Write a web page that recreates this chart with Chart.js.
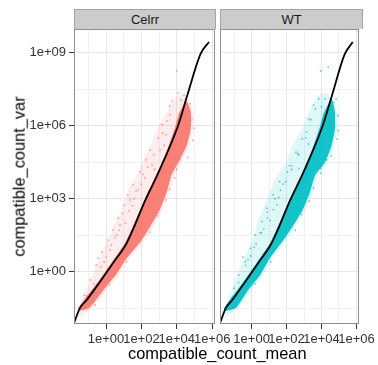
<!DOCTYPE html>
<html>
<head>
<meta charset="utf-8">
<script src="https://cdn.jsdelivr.net/npm/chart.js@4.4.1/dist/chart.umd.min.js"></script>
<style>
  body { margin: 0; background: #fff; font-family: "Liberation Sans", Arial, sans-serif; }
  #wrap { position: relative; width: 378px; height: 365px; overflow: hidden; }
  #wrap canvas { position: absolute; left: 0; top: 0; }
  .strip { position: absolute; top: 9px; height: 20px; box-sizing: border-box;
           background: #cccccc; border: 1px solid #a3a3a3; border-bottom: none;
           display: flex; align-items: center; justify-content: center;
           font-size: 13px; color: #1a1a1a; }
  .title { position: absolute; font-size: 16.4px; line-height: 19px; color: #000; white-space: nowrap; }
</style>
</head>
<body>
<div id="wrap">
  <canvas id="celrr" width="378" height="365"></canvas>
  <canvas id="wt" width="378" height="365"></canvas>
  <div class="strip" style="left:74px;width:142px;">Celrr</div>
  <div class="strip" style="left:220px;width:143px;">WT</div>
  <div class="title" id="ytitle">compatible_count_var</div>
  <div class="title" id="xtitle">compatible_count_mean</div>
</div>
<script>
// all values below are log10 of compatible_count_mean (x) and compatible_count_var (y)

// axis ticks
const xMajorExp = [0, 2, 4, 6];
const xMajorText = ['1e+00', '1e+02', '1e+04', '1e+06'];
const xMinorExp = [-1, 1, 3, 5];
const yMajorExp = [0, 3, 6, 9];
const yMajorText = ['1e+00', '1e+03', '1e+06', '1e+09'];
const yMinorExp = [-1.5, 1.5, 4.5, 7.5];

// Celrr: fitted trend
const celrrLineMean = [-1.81, -1.47, -1.09, -0.34, 0.40, 1.17, 2.26, 2.90, 4.07, 4.59, 5.35, 5.82];
const celrrLineVar  = [-2.11, -1.49, -1.16, -0.41, 0.36, 1.18, 3.00, 3.98, 6.00, 7.24, 8.96, 9.44];
// Celrr: dense part of the gene cloud (outline)
const celrrCoreMean = [-1.55, -0.96, -0.21, 0.55, 1.17, 1.95, 2.55, 3.08, 3.44, 3.71, 4.10, 4.56, 4.79, 4.79, 4.55,
                       4.12, 3.93, 3.45, 2.85, 2.20, 1.60, 1.08, 0.30, -0.45, -1.25, -1.58];
const celrrCoreVar  = [-1.62, -1.49, -0.82, -0.14, 0.55, 1.23, 1.92, 2.61, 3.29, 3.98, 4.51, 5.19, 5.87, 6.56, 7.00,
                       6.50, 6.00, 5.00, 3.98, 3.00, 2.00, 1.18, 0.36, -0.41, -1.16, -1.50];
// Celrr: sparse outer part of the cloud (outline)
const celrrHaloMean = [-1.70, -1.15, -0.77, -0.40, 0.07, 0.45, 0.92, 1.20, 1.68, 2.05, 2.53, 2.90, 3.50, 3.95, 4.45,
                       4.90, 4.93, 4.72, 4.25, 3.88, 3.60, 3.24, 2.72, 2.12, 1.35, 0.72, -0.05, -0.80, -1.45];
const celrrHaloVar  = [-1.85, -0.82, -0.14, 0.55, 1.23, 1.92, 2.61, 3.29, 3.90, 4.51, 5.19, 5.87, 6.65, 7.15, 7.30,
                       6.60, 5.87, 5.19, 4.51, 3.98, 3.29, 2.61, 1.92, 1.23, 0.55, -0.14, -0.82, -1.49, -1.85];
// Celrr: scattered genes
const celrrSpotMean = [4.00, 3.73, 4.07, 4.41, 4.69, 4.86, 3.62, 3.16, 2.94, 2.49, 2.26, 1.92, 1.53, 1.24, 1.02, 0.68,
                       0.40, 0.11, -0.23, -0.56, -0.90, -1.24, 1.36, 1.81, 2.20, 2.60, 3.05, 3.39, 0.79, 0.51, 0.23,
                       -0.11, 4.97, 4.18, 3.90, 3.39, 2.49, 1.15, 0.20, -0.62,
                       0.60, 0.95, 1.30, 1.60, 1.10, 0.30, -0.30, -0.70, -1.10, 2.00, 2.35, 2.70, 3.20, 3.45, 3.30,
                       2.10, 1.70, -0.45, 0.00, 0.75, 1.50, 2.75, 3.60, 4.25, 4.75, 4.90, 4.60, 4.00, 3.60, 2.90];
const celrrSpotVar  = [8.25, 7.02, 7.35, 7.27, 6.65, 6.24, 6.45, 6.04, 5.50, 5.00, 4.60, 4.10, 3.57, 3.16, 2.74, 2.21,
                       1.72, 1.30, 0.81, 0.28, -0.34, -0.96, 2.95, 3.36, 3.85, 4.39, 5.00, 5.63, 1.92, 1.39, 0.89,
                       0.40, 5.90, 4.60, 3.86, 2.95, 1.63, 0.40, -0.55, -1.37,
                       1.50, 2.40, 2.50, 3.00, 2.00, 1.10, 0.20, -0.50, -1.00, 3.60, 4.30, 4.80, 5.70, 6.20, 5.20,
                       4.00, 3.30, 0.55, 0.60, 1.70, 2.70, 4.20, 6.80, 7.05, 6.90, 5.40, 4.70, 4.20, 3.40, 2.30];

// WT: fitted trend
const wtLineMean = [-1.81, -1.47, -1.10, -0.36, 0.38, 1.15, 2.25, 2.90, 4.07, 4.60, 5.33, 5.79];
const wtLineVar  = [-2.11, -1.49, -1.16, -0.41, 0.36, 1.18, 3.00, 3.98, 6.00, 7.24, 8.94, 9.44];
// WT: dense part of the cloud (outline)
const wtCoreMean = [-1.55, -0.91, -0.26, 0.49, 1.04, 1.75, 2.40, 2.97, 3.35, 3.65, 4.20, 4.58, 4.77, 4.77, 4.58,
                    4.12, 3.93, 3.45, 2.85, 2.19, 1.59, 1.06, 0.28, -0.47, -1.26, -1.58];
const wtCoreVar  = [-1.62, -1.49, -0.82, -0.14, 0.55, 1.23, 1.92, 2.61, 3.29, 3.98, 4.50, 5.19, 5.87, 6.56, 7.10,
                    6.50, 6.00, 5.00, 3.98, 3.00, 2.00, 1.18, 0.36, -0.41, -1.16, -1.50];
// WT: sparse outer part of the cloud (outline)
const wtHaloMean = [-1.70, -1.19, -0.82, -0.45, 0.02, 0.30, 0.67, 1.04, 1.45, 1.98, 2.35, 2.90, 3.28, 3.84, 4.30,
                    4.90, 4.92, 4.73, 4.35, 3.80, 3.50, 3.12, 2.55, 1.90, 1.19, 0.64, -0.11, -0.76, -1.45];
const wtHaloVar  = [-1.85, -0.82, -0.14, 0.55, 1.23, 1.92, 2.61, 3.29, 3.95, 4.50, 5.19, 5.87, 6.56, 7.24, 7.35,
                    6.56, 5.87, 5.19, 4.50, 3.98, 3.29, 2.61, 1.92, 1.23, 0.55, -0.14, -0.82, -1.49, -1.85];
// WT: scattered genes
const wtSpotMean = [4.39, 3.95, 3.28, 3.65, 3.84, 4.00, 4.84, 4.95, 2.89, 2.54, 2.16, 1.60, 1.23, 0.86, 0.58, 0.21,
                    -0.07, -0.35, -0.73, -1.00, -1.00, 1.35, 1.80, 2.30, 2.70, 3.10, 0.90, 0.50, 0.15, -0.20, 3.95,
                    4.95, 4.30, 3.30, 2.50, 1.10, 0.20,
                    0.55, 0.90, 1.25, 1.55, 1.05, 0.25, -0.35, -0.75, -1.10, 1.95, 2.30, 2.65, 3.15, 3.40, 3.25,
                    2.05, 1.65, -0.50, -0.05, 0.70, 1.45, 2.70, 3.55, 4.20, 4.70, 4.88, 4.55, 3.95, 3.55, 2.85];
const wtSpotVar  = [8.41, 8.25, 6.28, 6.70, 7.10, 6.78, 7.10, 6.42, 5.46, 4.91, 4.36, 3.70, 3.16, 2.61, 2.06, 1.51,
                    0.96, 0.41, -0.14, -0.68, -1.37, 3.00, 3.60, 4.20, 4.80, 5.50, 2.20, 1.60, 1.00, 0.50, 4.05,
                    5.80, 4.60, 2.90, 1.70, 0.40, -0.50,
                    1.60, 2.45, 2.55, 3.05, 2.10, 1.15, 0.25, -0.45, -1.05, 3.70, 4.35, 4.85, 5.75, 6.25, 5.25,
                    4.10, 3.35, 0.60, 0.65, 1.75, 2.75, 4.25, 6.85, 7.10, 6.95, 5.45, 4.75, 4.25, 3.45, 2.35];

Chart.defaults.font.family = '"Liberation Sans", Arial, sans-serif';
Chart.defaults.animation = false;

const points = (xs, ys) => xs.map((x, i) => ({ x: 10 ** x, y: 10 ** ys[i] }));

function tickList(majorExp, majorText, minorExp) {
  return majorExp.map((e, i) => ({ e, text: majorText[i], major: true }))
    .concat(minorExp.map(e => ({ e, text: '', major: false })))
    .sort((a, b) => a.e - b.e);
}

function logAxis(list, minExp, maxExp, showLabels, size) {
  return {
    type: 'logarithmic',
    min: 10 ** minExp,
    max: 10 ** maxExp,
    afterBuildTicks: s => { s.ticks = list.map(t => ({ value: 10 ** t.e })); },
    afterFit: s => { if (s.isHorizontal()) s.height = size; else s.width = size; },
    border: { display: false },
    grid: {
      color: c => (list[c.index] && list[c.index].major) ? '#e6e6e6' : '#f1f1f1',
      tickColor: c => (list[c.index] && list[c.index].major) ? '#333' : 'rgba(0,0,0,0)',
      tickLength: 5,
      drawTicks: showLabels,
      lineWidth: 1
    },
    ticks: {
      display: showLabels,
      autoSkip: false,
      maxRotation: 0,
      minRotation: 0,
      padding: 3,
      color: '#333',
      font: { size: 13 },
      callback: (v, i) => list[i] ? list[i].text : ''
    }
  };
}

// grey frame round each panel
const frame = {
  id: 'frame',
  afterDraw(chart) {
    const { ctx, chartArea: a } = chart;
    ctx.save();
    ctx.strokeStyle = '#8f8f8f';
    ctx.lineWidth = 1;
    ctx.strokeRect(Math.round(a.left) + 0.5, Math.round(a.top) + 0.5,
                   Math.round(a.right - a.left) - 1, Math.round(a.bottom - a.top) - 1);
    ctx.restore();
  }
};

const xTicks = tickList(xMajorExp, xMajorText, xMinorExp);
const yTicks = tickList(yMajorExp, yMajorText, yMinorExp);

function panel(id, rgb, padding, yAxisWidth, showY, d) {
  new Chart(document.getElementById(id), {
    type: 'scatter',
    data: {
      datasets: [
        { type: 'line', data: points(d.lineX, d.lineY), borderColor: '#000', borderWidth: 1.8,
          pointRadius: 0, fill: false, cubicInterpolationMode: 'monotone' },
        { data: points(d.spotX, d.spotY), backgroundColor: `rgba(${rgb},0.7)`, borderWidth: 0,
          pointRadius: 0.9 },
        { type: 'line', data: points(d.coreX, d.coreY), backgroundColor: `rgba(${rgb},0.92)`,
          borderWidth: 0, pointRadius: 0, fill: 'shape', tension: 0.2 },
        { type: 'line', data: points(d.haloX, d.haloY), backgroundColor: `rgba(${rgb},0.13)`,
          borderWidth: 0, pointRadius: 0, fill: 'shape', tension: 0.2 }
      ]
    },
    options: {
      responsive: false,
      devicePixelRatio: 1,
      layout: { padding },
      plugins: { legend: { display: false }, tooltip: { enabled: false } },
      scales: {
        x: logAxis(xTicks, -1.81, 6.16, true, 41),
        y: logAxis(yTicks, -2.15, 9.975, showY, yAxisWidth)
      }
    },
    plugins: [frame]
  });
}

panel('celrr', '248,118,109', { left: 0, top: 29, right: 163, bottom: 0 }, 74, true, {
  lineX: celrrLineMean, lineY: celrrLineVar, coreX: celrrCoreMean, coreY: celrrCoreVar,
  haloX: celrrHaloMean, haloY: celrrHaloVar, spotX: celrrSpotMean, spotY: celrrSpotVar
});
panel('wt', '0,191,196', { left: 220, top: 29, right: 16, bottom: 0 }, 0, false, {
  lineX: wtLineMean, lineY: wtLineVar, coreX: wtCoreMean, coreY: wtCoreVar,
  haloX: wtHaloMean, haloY: wtHaloVar, spotX: wtSpotMean, spotY: wtSpotVar
});

// axis titles
const yt = document.getElementById('ytitle');
yt.style.left = (19 - yt.offsetWidth / 2) + 'px';
yt.style.top = (176.5 - yt.offsetHeight / 2) + 'px';
yt.style.transform = 'rotate(-90deg)';
const xt = document.getElementById('xtitle');
xt.style.left = (217.5 - xt.offsetWidth / 2) + 'px';
xt.style.top = '344px';
</script>
</body>
</html>
